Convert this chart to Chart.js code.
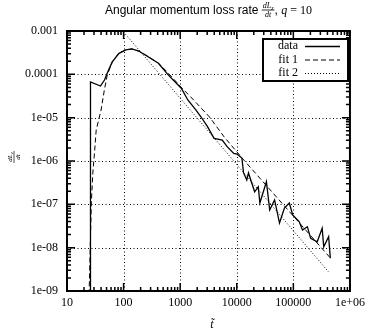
<!DOCTYPE html>
<html>
<head>
<meta charset="utf-8">
<script src="https://cdn.jsdelivr.net/npm/chart.js@4.4.1/dist/chart.umd.min.js"></script>
<style>
html,body{margin:0;padding:0;background:#fff}
</style>
</head>
<body>
<canvas id="chart" width="370" height="332"></canvas>
<script>
// values (t, dL/dt)
let dataT=[26,26,39,46,51.5,63,83,109,140,185,242,412,614,1045,1365,1905,2325,3040,3970,5540,6760,8840,10070,12300,13180,15030,16100,18370,20700,24000,25600,33400,38200,46600,56900,69500,84900,97300,126500,145000,177000,202000,264000,323000,344000,420000,450000];
let dataV=[1e-10,6.65e-5,5.38e-5,7.4e-5,1.07e-4,1.93e-4,3.05e-4,3.65e-4,3.85e-4,3.45e-4,2.79e-4,1.8e-4,9.7e-5,4.77e-5,2.56e-5,1.5e-5,1.05e-5,6.2e-6,3.34e-6,3.05e-6,2.14e-6,1.5e-6,1.45e-6,1.17e-6,5.3e-7,3.64e-7,5.3e-7,3.1e-7,1.95e-7,2.55e-7,1.07e-7,3.33e-7,7.4e-8,1.26e-7,3.7e-8,8.2e-8,1.07e-7,5.7e-8,4.0e-8,2.55e-8,3.05e-8,1.64e-8,1.37e-8,2.8e-8,1.05e-8,1.79e-8,5.7e-9];

let fit1T=[23.6,26.9,28.6,30.6,32.8,40,45.7,51.5,63,83,110,140,185,245,412,614,1030,1540,3290,6000,13340,450000];
let fit1V=[1e-10,1.07e-7,5.3e-7,1.53e-6,5.2e-6,1.5e-5,4.35e-5,9.7e-5,1.93e-4,3.1e-4,3.65e-4,3.85e-4,3.45e-4,2.79e-4,1.82e-4,1.07e-4,5.1e-5,3.0e-5,1.04e-5,3.58e-6,1.05e-6,5.8e-9];

let fit2T=[100,420000];
let fit2V=[9.5e-4,2.74e-9];

let seriesNames=["data","fit 1","fit 2"];

let xTicks=[10,100,1000,10000,100000,1000000];
let xTickLabels=["10","100","1000","10000","100000","1e+06"];
let yTicks=[1e-9,1e-8,1e-7,1e-6,1e-5,1e-4,1e-3];
let yTickLabels=["1e-09","1e-08","1e-07","1e-06","1e-05","0.0001","0.001"];

function toPoints(xs,ys){
    let pts=[];
    for(let i=0;i<xs.length;i++){
        pts.push({x:xs[i],y:ys[i]});
    }
    return pts;
}

let serif='"Liberation Serif", "DejaVu Serif", serif';
let sans='"Liberation Sans", "DejaVu Sans", sans-serif';

// grid, ticks, frame, key, title and axis labels drawn like gnuplot
let gnuplotLook={
    id:"gnuplotLook",
    beforeDatasetsDraw(chart){
        let ctx=chart.ctx;
        let a=chart.chartArea;
        let xs=chart.scales.x, ys=chart.scales.y;
        ctx.save();
        ctx.strokeStyle="#000";
        ctx.lineWidth=1;
        ctx.setLineDash([1,2.5]);
        for(let i=1;i<xTicks.length-1;i++){
            let px=Math.round(xs.getPixelForValue(xTicks[i]))+0.5;
            ctx.beginPath();ctx.moveTo(px,a.top);ctx.lineTo(px,a.bottom);ctx.stroke();
        }
        for(let i=1;i<yTicks.length-1;i++){
            let py=Math.round(ys.getPixelForValue(yTicks[i]))+0.5;
            ctx.beginPath();ctx.moveTo(a.left,py);ctx.lineTo(a.right,py);ctx.stroke();
        }
        ctx.restore();
    },
    afterDatasetsDraw(chart){
        let ctx=chart.ctx;
        let a=chart.chartArea;
        let xs=chart.scales.x, ys=chart.scales.y;
        ctx.save();
        ctx.strokeStyle="#000";
        ctx.setLineDash([]);
        // ticks
        ctx.lineWidth=1.5;
        let major=8, minor=4;
        for(let i=0;i<xTicks.length;i++){
            for(let m=1;m<=9;m++){
                let v=xTicks[i]*m;
                if(v>xTicks[xTicks.length-1]) break;
                let px=xs.getPixelForValue(v);
                let len=(m==1)?major:minor;
                ctx.beginPath();
                ctx.moveTo(px,a.bottom);ctx.lineTo(px,a.bottom-len);
                ctx.moveTo(px,a.top);ctx.lineTo(px,a.top+len);
                ctx.stroke();
            }
        }
        for(let i=0;i<yTicks.length;i++){
            for(let m=1;m<=9;m++){
                let v=yTicks[i]*m;
                if(v>yTicks[yTicks.length-1]*1.0001) break;
                let py=ys.getPixelForValue(v);
                let len=(m==1)?major:minor;
                ctx.beginPath();
                ctx.moveTo(a.left,py);ctx.lineTo(a.left+len,py);
                ctx.moveTo(a.right,py);ctx.lineTo(a.right-len,py);
                ctx.stroke();
            }
        }
        // frame
        ctx.lineWidth=2;
        ctx.strokeRect(a.left,a.top,a.right-a.left,a.bottom-a.top);

        // key
        let kx=263, ky=39, kw=85, kh=42;
        ctx.fillStyle="#fff";
        ctx.fillRect(kx,ky,kw,kh);
        ctx.lineWidth=2;
        ctx.strokeRect(kx,ky,kw,kh);
        ctx.fillStyle="#000";
        ctx.font="12px "+serif;
        ctx.textAlign="right";
        ctx.textBaseline="middle";
        let dashes=[[],[5,3],[1,2]];
        for(let i=0;i<3;i++){
            let cy=ky+7+i*13.5;
            ctx.fillText(chart.data.datasets[i].label,298,cy);
            ctx.lineWidth=(i==0)?1.4:1;
            ctx.setLineDash(dashes[i]);
            ctx.beginPath();ctx.moveTo(305,cy+0.5);ctx.lineTo(340,cy+0.5);ctx.stroke();
        }
        ctx.setLineDash([]);

        // title
        let cx=(a.left+a.right)/2;
        let base=14;
        let p1="Angular momentum loss rate ";
        ctx.textAlign="left";
        ctx.textBaseline="alphabetic";
        ctx.font="12px "+sans;
        let w1=ctx.measureText(p1).width;
        ctx.font="italic 8px "+serif;
        let wdl=ctx.measureText("dL").width;
        ctx.font="italic 6px "+serif;
        let wz=ctx.measureText("z").width;
        ctx.font="italic 8px "+serif;
        let wdt=ctx.measureText("dt").width;
        let fw=Math.max(wdl+wz,wdt)+2;
        ctx.font="12px "+sans;
        let w3=ctx.measureText(", ").width;
        ctx.font="italic 12px "+serif;
        let wq=ctx.measureText("q").width;
        ctx.font="12px "+serif;
        let w4=ctx.measureText(" = 10").width;
        let x0=cx-(w1+fw+w3+wq+w4)/2;
        ctx.font="12px "+sans;
        ctx.fillText(p1,x0,base);
        let fx=x0+w1;
        ctx.font="italic 8px "+serif;
        ctx.fillText("dL",fx+1+(fw-2-wdl-wz)/2,base-6);
        ctx.font="italic 6px "+serif;
        ctx.fillText("z",fx+1+(fw-2-wdl-wz)/2+wdl,base-4.5);
        ctx.font="italic 8px "+serif;
        ctx.fillText("dt",fx+(fw-wdt)/2,base+3);
        ctx.lineWidth=0.8;
        ctx.beginPath();ctx.moveTo(fx,base-4);ctx.lineTo(fx+fw,base-4);ctx.stroke();
        ctx.font="12px "+sans;
        ctx.fillText(", ",fx+fw,base);
        ctx.font="italic 12px "+serif;
        ctx.fillText("q",fx+fw+w3,base);
        ctx.font="12px "+serif;
        ctx.fillText(" = 10",fx+fw+w3+wq,base);

        // x label
        ctx.font="italic 12px "+serif;
        ctx.textAlign="center";
        ctx.fillText("t\u0303",212,328);

        // y label, rotated fraction
        ctx.translate(14,157);
        ctx.rotate(-Math.PI/2);
        ctx.font="italic 7px "+serif;
        ctx.textAlign="center";
        ctx.fillText("dL",-1,-2);
        ctx.font="italic 5px "+serif;
        ctx.fillText("z",4,-1);
        ctx.font="italic 7px "+serif;
        ctx.fillText("dt",0,6);
        ctx.lineWidth=0.7;
        ctx.beginPath();ctx.moveTo(-6,0);ctx.lineTo(6,0);ctx.stroke();
        ctx.restore();
    }
};

let ctx=document.getElementById("chart").getContext("2d");
let chart=new Chart(ctx,{
    type:"line",
    data:{
        datasets:[
            {label:seriesNames[0],data:toPoints(dataT,dataV),borderColor:"#000",borderWidth:1.3,pointRadius:0,fill:false,tension:0},
            {label:seriesNames[1],data:toPoints(fit1T,fit1V),borderColor:"#000",borderWidth:1,borderDash:[5,3],pointRadius:0,fill:false,tension:0},
            {label:seriesNames[2],data:toPoints(fit2T,fit2V),borderColor:"#000",borderWidth:1,borderDash:[1,2],pointRadius:0,fill:false,tension:0}
        ]
    },
    options:{
        responsive:false,
        animation:false,
        devicePixelRatio:1,
        layout:{padding:{left:0,right:15,top:31,bottom:0}},
        plugins:{legend:{display:false},tooltip:{enabled:false},title:{display:false}},
        scales:{
            x:{
                type:"logarithmic",
                min:10,max:1000000,
                grid:{display:false,drawTicks:false},
                border:{display:false},
                afterBuildTicks:function(s){s.ticks=xTicks.map(v=>({value:v}));},
                afterFit:function(s){s.height=41;},
                ticks:{
                    maxRotation:0,autoSkip:false,padding:5,color:"#000",
                    font:{family:serif,size:12},
                    callback:function(v){return xTickLabels[Math.round(Math.log10(v))-1];}
                }
            },
            y:{
                type:"logarithmic",
                min:1e-9,max:1e-3,
                grid:{display:false,drawTicks:false},
                border:{display:false},
                afterBuildTicks:function(s){s.ticks=yTicks.map(v=>({value:v}));},
                afterFit:function(s){s.width=67;},
                ticks:{
                    autoSkip:false,padding:9,color:"#000",
                    font:{family:serif,size:12},
                    callback:function(v){return yTickLabels[Math.round(Math.log10(v))+9];}
                }
            }
        }
    },
    plugins:[gnuplotLook]
});
</script>
</body>
</html>
